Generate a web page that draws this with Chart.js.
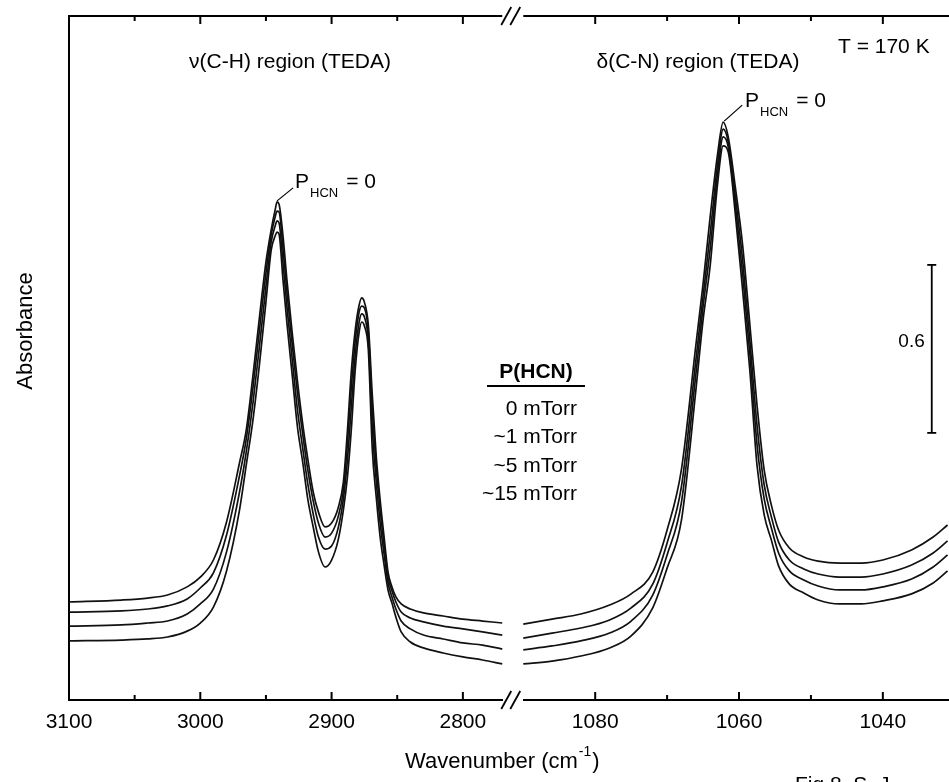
<!DOCTYPE html>
<html>
<head>
<meta charset="utf-8">
<script src="https://cdn.jsdelivr.net/npm/chart.js@4.4.1/dist/chart.umd.min.js"></script>
<style>
  html, body { margin: 0; padding: 0; background: #fff; }
</style>
</head>
<body>
<canvas id="spectra" width="949" height="782"></canvas>
<script>
const LEFT_WN = [3100, 3060, 3040, 3025, 3010, 3000, 2990, 2980, 2970, 2965,
  2960, 2955, 2950, 2946, 2943, 2941.5, 2940, 2937, 2934, 2930,
  2926, 2922, 2918, 2914, 2910, 2905, 2900, 2895, 2891, 2888,
  2885, 2882, 2879, 2877, 2875, 2872, 2869, 2866, 2863, 2860,
  2857, 2854, 2851, 2847, 2840, 2830, 2815, 2800, 2785, 2770];
const RIGHT_WN = [1090, 1086, 1082, 1078, 1075, 1072, 1070, 1068, 1066, 1065,
  1064, 1063, 1062.2, 1061.5, 1060.5, 1059.5, 1058.5, 1057.5, 1056.5, 1055.5,
  1054.5, 1053, 1051, 1049, 1046, 1043, 1040, 1036, 1033, 1031];

// absorbance, v(C-H) region
const LEFT_P0 = [0.350, 0.357, 0.364, 0.375, 0.404, 0.439, 0.500, 0.636, 0.850, 0.964,
  1.154, 1.364, 1.564, 1.679, 1.750, 1.779, 1.771, 1.657, 1.500, 1.311,
  1.139, 0.986, 0.857, 0.743, 0.671, 0.618, 0.632, 0.686, 0.779, 0.957,
  1.171, 1.321, 1.411, 1.436, 1.421, 1.339, 1.089, 0.871, 0.714, 0.582,
  0.457, 0.404, 0.368, 0.343, 0.325, 0.311, 0.300, 0.289, 0.282, 0.275];
const LEFT_P1 = [0.314, 0.318, 0.325, 0.336, 0.361, 0.400, 0.454, 0.589, 0.804, 0.932,
  1.111, 1.318, 1.525, 1.661, 1.725, 1.746, 1.743, 1.614, 1.457, 1.271,
  1.096, 0.950, 0.818, 0.711, 0.632, 0.582, 0.596, 0.654, 0.750, 0.914,
  1.114, 1.282, 1.386, 1.407, 1.400, 1.314, 1.036, 0.832, 0.679, 0.554,
  0.439, 0.389, 0.350, 0.314, 0.293, 0.279, 0.264, 0.254, 0.243, 0.232];
const LEFT_P5 = [0.264, 0.268, 0.275, 0.282, 0.307, 0.343, 0.396, 0.529, 0.746, 0.886,
  1.057, 1.261, 1.475, 1.636, 1.693, 1.711, 1.704, 1.561, 1.404, 1.218,
  1.036, 0.900, 0.768, 0.664, 0.582, 0.539, 0.550, 0.614, 0.718, 0.854,
  1.043, 1.232, 1.350, 1.379, 1.368, 1.282, 0.971, 0.782, 0.632, 0.521,
  0.418, 0.368, 0.325, 0.282, 0.254, 0.232, 0.218, 0.204, 0.196, 0.182];
const LEFT_P15 = [0.211, 0.214, 0.218, 0.225, 0.246, 0.275, 0.332, 0.461, 0.682, 0.839,
  0.996, 1.196, 1.421, 1.607, 1.657, 1.671, 1.664, 1.500, 1.346, 1.161,
  0.975, 0.850, 0.714, 0.618, 0.529, 0.475, 0.500, 0.571, 0.679, 0.793,
  0.964, 1.179, 1.314, 1.350, 1.336, 1.250, 0.896, 0.725, 0.582, 0.482,
  0.393, 0.346, 0.296, 0.243, 0.207, 0.186, 0.168, 0.154, 0.143, 0.129];

// absorbance, d(C-N) region
const RIGHT_P0 = [0.271, 0.289, 0.307, 0.339, 0.379, 0.457, 0.607, 0.825, 1.268, 1.486,
  1.729, 1.946, 2.064, 2.011, 1.829, 1.625, 1.343, 1.054, 0.821, 0.696,
  0.607, 0.543, 0.511, 0.496, 0.489, 0.489, 0.500, 0.536, 0.582, 0.625];
const RIGHT_P1 = [0.221, 0.239, 0.257, 0.286, 0.329, 0.414, 0.561, 0.764, 1.214, 1.443,
  1.668, 1.911, 2.039, 1.993, 1.796, 1.571, 1.286, 0.982, 0.768, 0.654,
  0.564, 0.500, 0.468, 0.450, 0.439, 0.439, 0.450, 0.482, 0.525, 0.568];
const RIGHT_P5 = [0.179, 0.193, 0.211, 0.239, 0.282, 0.375, 0.518, 0.707, 1.164, 1.404,
  1.614, 1.875, 2.011, 1.975, 1.764, 1.521, 1.236, 0.914, 0.718, 0.614,
  0.525, 0.461, 0.429, 0.407, 0.393, 0.393, 0.404, 0.432, 0.475, 0.518];
const RIGHT_P15 = [0.129, 0.139, 0.157, 0.186, 0.229, 0.329, 0.471, 0.643, 1.107, 1.357,
  1.554, 1.839, 1.979, 1.957, 1.732, 1.464, 1.179, 0.839, 0.661, 0.571,
  0.479, 0.414, 0.382, 0.357, 0.343, 0.343, 0.354, 0.379, 0.418, 0.461];

const PRESSURE_LABELS = ["0 mTorr", "~1 mTorr", "~5 mTorr", "~15 mTorr"];
const LEFT_TICKS = [3100, 3000, 2900, 2800];
const LEFT_MINOR = [3050, 2950, 2850];
const RIGHT_TICKS = [1080, 1060, 1040];
const RIGHT_MINOR = [1070, 1050];
const LEFT_RANGE = [2762.2, 3100];
const RIGHT_RANGE = [1030.8, 1091.5];
const Y_RANGE = [0, 2.443];
const SCALE_BAR = 0.6;
const SCALE_BAR_BASE = 0.954;
const SCALE_BAR_WN = 1033.2;

const FONT = '"Liberation Sans", Arial, Helvetica, sans-serif';

const pts = (xs, ys) => xs.map((x, i) => ({ x: x, y: ys[i] }));

const SERIES = [
  { label: PRESSURE_LABELS[0], left: LEFT_P0, right: RIGHT_P0 },
  { label: PRESSURE_LABELS[1], left: LEFT_P1, right: RIGHT_P1 },
  { label: PRESSURE_LABELS[2], left: LEFT_P5, right: RIGHT_P5 },
  { label: PRESSURE_LABELS[3], left: LEFT_P15, right: RIGHT_P15 },
];

const lineStyle = {
  borderColor: "#111",
  borderWidth: 1.7,
  pointRadius: 0,
  fill: false,
  cubicInterpolationMode: "monotone",
};

const datasets = [];
SERIES.forEach((s) => {
  datasets.push({ ...lineStyle, label: s.label, xAxisID: "xL", data: pts(LEFT_WN, s.left) });
  datasets.push({ ...lineStyle, label: s.label, xAxisID: "xR", data: pts(RIGHT_WN, s.right) });
});

const line = (ctx, x1, y1, x2, y2) => {
  ctx.beginPath();
  ctx.moveTo(x1, y1);
  ctx.lineTo(x2, y2);
  ctx.stroke();
};

// frame, inward ticks, axis break, labels and the scale bar
const decorations = {
  id: "decorations",
  afterDraw(chart) {
    const { ctx, chartArea: a, scales } = chart;
    const xL = scales.xL, xR = scales.xR, y = scales.y;
    const gapA = xL.getPixelForValue(LEFT_WN[LEFT_WN.length - 1]);
    const gapB = xR.getPixelForValue(RIGHT_WN[0]);

    ctx.save();
    ctx.strokeStyle = "#000";
    ctx.fillStyle = "#000";
    ctx.lineCap = "butt";

    // cut the bottom axis at the break
    ctx.clearRect(gapA + 0.5, a.bottom - 4, gapB - gapA - 1, 8);

    ctx.lineWidth = 2;
    line(ctx, a.left - 1, a.top, gapA, a.top);
    line(ctx, gapB, a.top, a.right, a.top);

    const tick = (x, len) => {
      line(ctx, x, a.bottom, x, a.bottom - len);
      line(ctx, x, a.top, x, a.top + len);
    };
    LEFT_TICKS.forEach((v) => tick(xL.getPixelForValue(v), 8));
    LEFT_MINOR.forEach((v) => tick(xL.getPixelForValue(v), 5));
    RIGHT_TICKS.forEach((v) => tick(xR.getPixelForValue(v), 8));
    RIGHT_MINOR.forEach((v) => tick(xR.getPixelForValue(v), 5));

    ctx.lineWidth = 1.8;
    [a.top, a.bottom].forEach((yy) => {
      line(ctx, gapA - 1, yy + 9, gapA + 9, yy - 9);
      line(ctx, gapA + 8, yy + 9, gapA + 18, yy - 9);
    });

    // region titles
    ctx.textBaseline = "alphabetic";
    ctx.font = "21px " + FONT;
    ctx.textAlign = "center";
    ctx.fillText("\u03BD(C-H) region (TEDA)", 290, 68);
    ctx.fillText("\u03B4(C-N) region (TEDA)", 698, 68);
    ctx.textAlign = "left";
    ctx.fillText("T = 170 K", 838, 53);

    // P_HCN = 0 labels with leader lines
    const pLabel = (x, yb) => {
      ctx.textAlign = "left";
      ctx.font = "21px " + FONT;
      ctx.fillText("P", x, yb);
      const w1 = ctx.measureText("P").width;
      ctx.font = "13px " + FONT;
      ctx.fillText("HCN", x + w1 + 1, yb + 9);
      const w2 = ctx.measureText("HCN").width;
      ctx.font = "21px " + FONT;
      ctx.fillText("= 0", x + w1 + w2 + 9, yb);
    };
    const iL = LEFT_P0.indexOf(Math.max(...LEFT_P0));
    const iR = RIGHT_P0.indexOf(Math.max(...RIGHT_P0));
    const pkL = { x: xL.getPixelForValue(LEFT_WN[iL]), y: y.getPixelForValue(LEFT_P0[iL]) };
    const pkR = { x: xR.getPixelForValue(RIGHT_WN[iR]), y: y.getPixelForValue(RIGHT_P0[iR]) };
    ctx.lineWidth = 1.2;
    line(ctx, pkL.x, pkL.y - 1, pkL.x + 16, pkL.y - 14);
    line(ctx, pkR.x + 1, pkR.y - 1, pkR.x + 19, pkR.y - 17);
    pLabel(295, 188);
    pLabel(745, 107);

    // pressure legend
    ctx.font = "bold 21px " + FONT;
    ctx.textAlign = "center";
    ctx.fillText("P(HCN)", 536, 378);
    ctx.lineWidth = 2;
    line(ctx, 487, 386, 585, 386);
    ctx.font = "21px " + FONT;
    ctx.textAlign = "right";
    PRESSURE_LABELS.forEach((t, i) => ctx.fillText(t, 577, 415 + i * 28.4));

    // 0.6 absorbance scale bar
    const bx = xR.getPixelForValue(SCALE_BAR_WN);
    const y0 = y.getPixelForValue(SCALE_BAR_BASE);
    const y1 = y.getPixelForValue(SCALE_BAR_BASE + SCALE_BAR);
    ctx.lineWidth = 1.8;
    line(ctx, bx, y0, bx, y1);
    line(ctx, bx - 4.5, y0, bx + 4.5, y0);
    line(ctx, bx - 4.5, y1, bx + 4.5, y1);
    ctx.font = "19px " + FONT;
    ctx.textAlign = "right";
    ctx.fillText(String(SCALE_BAR), bx - 7, (y0 + y1) / 2 - 2);

    // axis titles
    ctx.save();
    ctx.translate(32, 331);
    ctx.rotate(-Math.PI / 2);
    ctx.font = "22px " + FONT;
    ctx.textAlign = "center";
    ctx.fillText("Absorbance", 0, 0);
    ctx.restore();

    ctx.textAlign = "left";
    let tx = 405;
    const tb = 768;
    ctx.font = "22px " + FONT;
    ctx.fillText("Wavenumber (cm", tx, tb);
    tx += ctx.measureText("Wavenumber (cm").width + 1;
    ctx.font = "14px " + FONT;
    ctx.fillText("-1", tx, tb - 12);
    tx += ctx.measureText("-1").width + 1;
    ctx.font = "22px " + FONT;
    ctx.fillText(")", tx, tb);

    // figure caption, cut by the page edge
    ctx.font = "21px " + FONT;
    ctx.fillText("Fig 8. S. J", 795, 791);

    ctx.restore();
  },
};

const xAxis = (range, ticks, weight) => ({
  type: "linear",
  position: "bottom",
  stack: "wn",
  stackWeight: weight,
  reverse: true,
  min: range[0],
  max: range[1],
  grid: { display: false, drawTicks: false },
  border: { display: true, color: "#000", width: 2 },
  ticks: {
    color: "#000",
    font: { family: FONT, size: 21 },
    padding: 10,
    autoSkip: false,
    maxRotation: 0,
    callback: (v) => String(v),
  },
  afterBuildTicks: (s) => {
    s.ticks = ticks.map((v) => ({ value: v }));
  },
  afterFit: (s) => {
    s.height = 82;
    s.paddingLeft = 0;
    s.paddingRight = 0;
  },
});

new Chart(document.getElementById("spectra"), {
  type: "line",
  data: { datasets: datasets },
  options: {
    responsive: false,
    animation: false,
    devicePixelRatio: 1,
    layout: { padding: { top: 16, right: 0, bottom: 0, left: 0 } },
    plugins: { legend: { display: false }, tooltip: { enabled: false } },
    scales: {
      xL: xAxis(LEFT_RANGE, LEFT_TICKS, 443.5),
      xR: xAxis(RIGHT_RANGE, RIGHT_TICKS, 436.5),
      y: {
        type: "linear",
        position: "left",
        min: Y_RANGE[0],
        max: Y_RANGE[1],
        grid: { display: false, drawTicks: false },
        border: { display: true, color: "#000", width: 2 },
        ticks: { display: false },
        afterFit: (s) => {
          s.width = 69;
        },
      },
    },
  },
  plugins: [decorations],
});
</script>
</body>
</html>
